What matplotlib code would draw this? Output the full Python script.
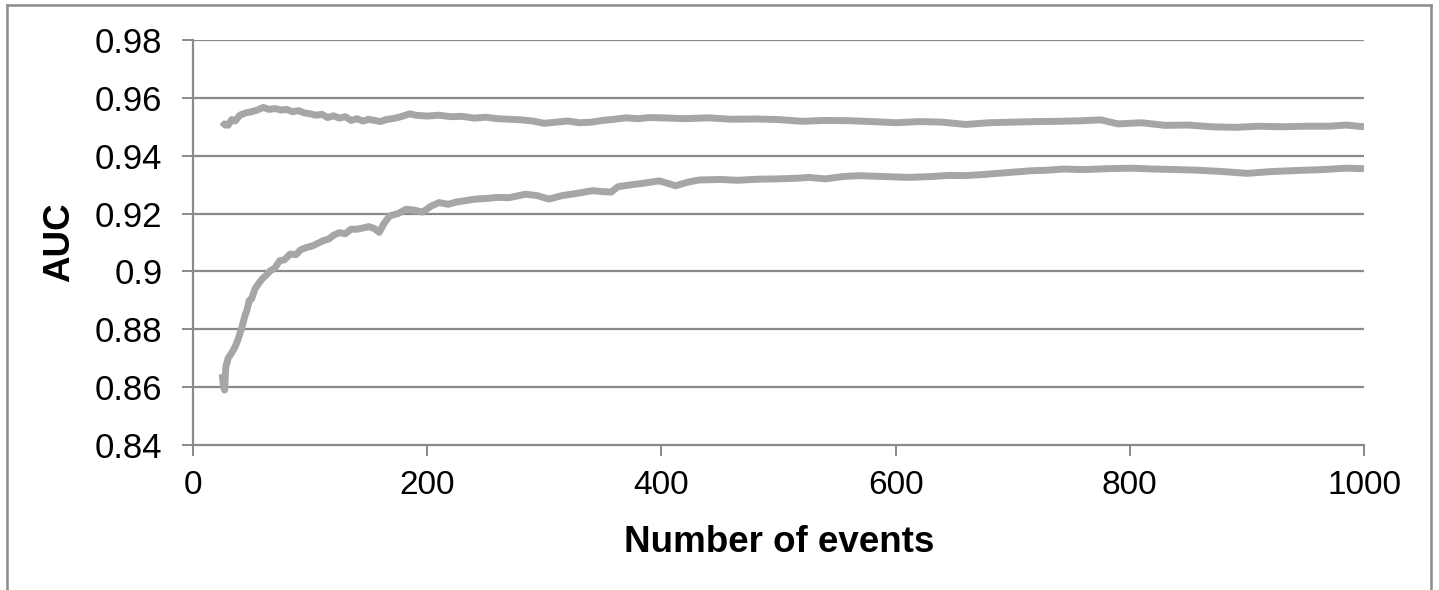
import matplotlib
matplotlib.use("Agg")
import matplotlib.pyplot as plt
from matplotlib.lines import Line2D

plt.rcParams['font.family'] = ['Liberation Sans', 'DejaVu Sans']

# Upper series
events_upper = [25, 27, 30, 33, 36, 40, 45, 50, 55, 60, 65, 70, 75, 80, 85, 90, 95, 100,
                105, 110, 115, 120, 125, 130, 135, 140, 145, 150, 155, 160, 165, 170, 175,
                180, 185, 190, 200, 210, 220, 230, 240, 250, 260, 270, 280, 290, 300, 310,
                320, 330, 340, 350, 360, 370, 380, 390, 400, 420, 440, 460, 480, 500, 520,
                540, 560, 580, 600, 620, 640, 660, 680, 700, 720, 740, 760, 775, 790, 810,
                830, 850, 870, 890, 910, 930, 950, 970, 985, 1000]
auc_upper = [0.9500, 0.9510, 0.9505, 0.9525, 0.9520, 0.9540, 0.9548, 0.9552, 0.9558, 0.9567,
             0.9560, 0.9563, 0.9558, 0.9560, 0.9552, 0.9556, 0.9548, 0.9545, 0.9540, 0.9543,
             0.9532, 0.9538, 0.9530, 0.9535, 0.9522, 0.9528, 0.9520, 0.9526, 0.9522, 0.9518,
             0.9525, 0.9528, 0.9532, 0.9538, 0.9545, 0.9540, 0.9537, 0.9540, 0.9535, 0.9536,
             0.9530, 0.9533, 0.9528, 0.9526, 0.9524, 0.9520, 0.9512, 0.9516, 0.9520, 0.9514,
             0.9516, 0.9522, 0.9526, 0.9531, 0.9528, 0.9532, 0.9531, 0.9528, 0.9531, 0.9526,
             0.9527, 0.9525, 0.9519, 0.9522, 0.9521, 0.9518, 0.9514, 0.9518, 0.9516, 0.9508,
             0.9514, 0.9516, 0.9518, 0.9519, 0.9521, 0.9524, 0.9510, 0.9514, 0.9505, 0.9506,
             0.9500, 0.9498, 0.9502, 0.9500, 0.9502, 0.9502, 0.9506, 0.9500]

# Lower series
events_lower = [25, 26, 27, 28, 30, 32, 34, 36, 38, 40, 42, 44, 46, 48, 50, 53, 56, 59, 62,
                66, 70, 74, 78, 83, 88, 92, 97, 102, 107, 111, 116, 120, 125, 130, 135, 140,
                145, 150, 155, 159, 163, 168, 175, 182, 189, 196, 203, 210, 218, 225, 233,
                241, 250, 260, 270, 284, 294, 304, 315, 325, 341, 350, 357, 363, 375, 385,
                398, 405, 412, 422, 432, 450, 465, 483, 500, 515, 526, 540, 555, 568, 590,
                611, 631, 645, 659, 675, 687, 700, 716, 730, 744, 760, 780, 801, 820, 840,
                858, 880, 900, 920, 943, 965, 985, 1000]
auc_lower = [0.8645, 0.8600, 0.8590, 0.8670, 0.8700, 0.8712, 0.8725, 0.8740, 0.8760, 0.8785,
             0.8810, 0.8842, 0.8865, 0.8899, 0.8905, 0.8940, 0.8958, 0.8974, 0.8985, 0.9002,
             0.9012, 0.9037, 0.9040, 0.9060, 0.9058, 0.9075, 0.9083, 0.9088, 0.9098, 0.9106,
             0.9112, 0.9125, 0.9134, 0.9130, 0.9146, 0.9146, 0.9150, 0.9155, 0.9148, 0.9135,
             0.9165, 0.9192, 0.9200, 0.9215, 0.9212, 0.9205, 0.9225, 0.9238, 0.9232, 0.9240,
             0.9245, 0.9250, 0.9252, 0.9256, 0.9255, 0.9267, 0.9262, 0.9250, 0.9262, 0.9268,
             0.9279, 0.9276, 0.9274, 0.9293, 0.9300, 0.9305, 0.9313, 0.9305, 0.9296, 0.9308,
             0.9316, 0.9318, 0.9315, 0.9319, 0.9320, 0.9322, 0.9325, 0.9320, 0.9328, 0.9331,
             0.9328, 0.9325, 0.9328, 0.9332, 0.9331, 0.9335, 0.9339, 0.9343, 0.9348, 0.9350,
             0.9354, 0.9352, 0.9355, 0.9357, 0.9354, 0.9352, 0.9350, 0.9345, 0.9339, 0.9345,
             0.9349, 0.9352, 0.9357, 0.9355]

x_ticks = [0, 200, 400, 600, 800, 1000]
y_ticks = [0.84, 0.86, 0.88, 0.90, 0.92, 0.94, 0.96, 0.98]
y_tick_labels = ["0.84", "0.86", "0.88", "0.9", "0.92", "0.94", "0.96", "0.98"]

W, H = 1439, 590
fig = plt.figure(figsize=(W / 100, H / 100), dpi=100)
ax = fig.add_axes([193 / W, 1 - 445 / H, (1364 - 193) / W, (445 - 40) / H])

grid_col = "#8a8a8a"
line_col = "#a6a6a6"

ax.set_xlim(0, 1000)
ax.set_ylim(0.84, 0.98)
ax.set_yticks(y_ticks)
ax.set_yticklabels(y_tick_labels)
ax.set_xticks(x_ticks)
ax.set_xticklabels([str(v) for v in x_ticks])

for yv in y_ticks[1:]:
    ax.axhline(yv, color=grid_col, lw=1.6, zorder=1)

ax.plot(events_upper, auc_upper, color=line_col, lw=5.0, solid_capstyle='butt',
        solid_joinstyle='round', zorder=3)
ax.plot(events_lower, auc_lower, color=line_col, lw=5.0, solid_capstyle='butt',
        solid_joinstyle='round', zorder=3)

for s in ['top', 'right']:
    ax.spines[s].set_visible(False)
for s in ['left', 'bottom']:
    ax.spines[s].set_color(grid_col)
    ax.spines[s].set_linewidth(1.6)

ax.tick_params(axis='both', direction='out', length=8, width=1.4, color=grid_col,
               labelcolor='black')
ax.tick_params(axis='y', pad=14, labelsize=25)
ax.tick_params(axis='x', pad=10, labelsize=24)

fig.text(60 / W, 1 - 242 / H, "AUC", rotation=90, fontsize=26.5, fontweight='bold',
         ha='center', va='center')
fig.text(779 / W, 1 - 552 / H, "Number of events", fontsize=26.5, fontweight='bold',
         ha='center', va='baseline')

# outer frame
bx0, bx1, by1 = 7 / W, 1431 / W, 1 - 5 / H
for xs, ys in [([bx0, bx0], [0, by1]), ([bx0, bx1], [by1, by1]), ([bx1, bx1], [by1, 0])]:
    fig.add_artist(Line2D(xs, ys, transform=fig.transFigure, color="#8c8c8c", lw=1.8))

fig.savefig("out.png", dpi=100)
